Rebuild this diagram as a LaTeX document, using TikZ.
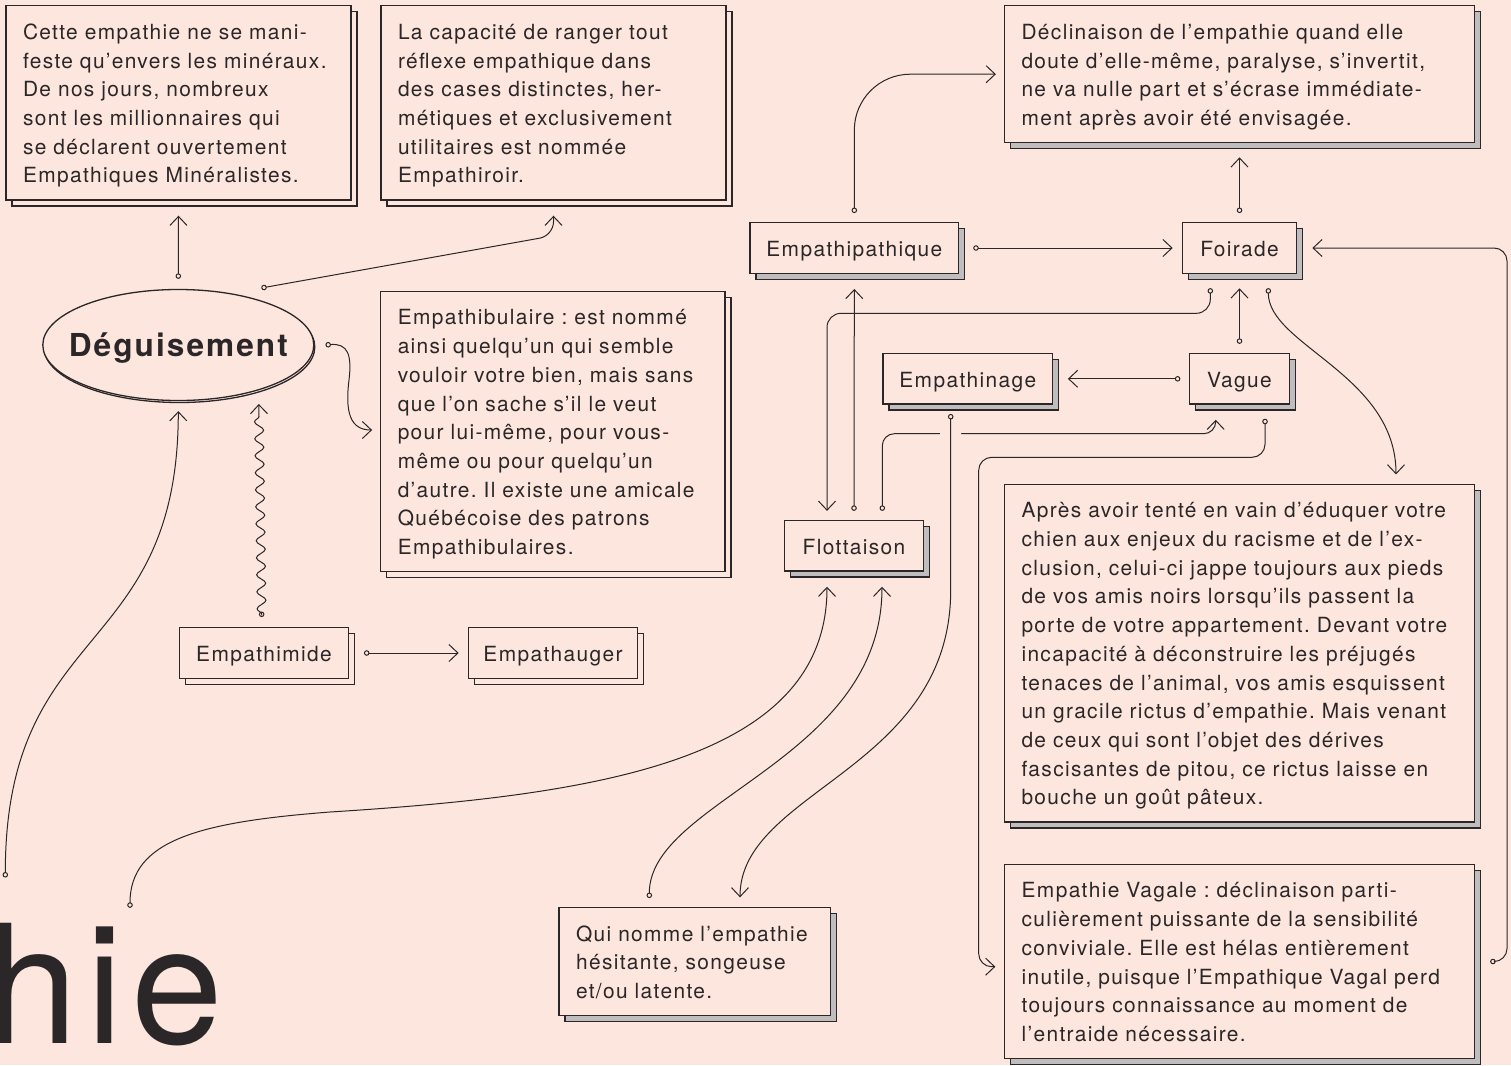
\documentclass[tikz,border=0pt]{standalone}
\usepackage{fontspec}
\setmainfont[LetterSpace=6.5]{TeX Gyre Heros}
\newfontfamily\titrefont[LetterSpace=5]{TeX Gyre Heros}
\usetikzlibrary{arrows.meta,shapes.geometric,shadows,decorations.pathmorphing}
\frenchspacing

\definecolor{fond}{HTML}{FCE6DE}
\definecolor{encre}{HTML}{2B2627}
\definecolor{ombre}{HTML}{BFBDBE}

\tikzset{
  note/.style={draw=encre, line width=1.3pt, fill=fond, text=encre, align=left,
    text width=#1, inner xsep=17pt, inner ysep=0pt,
    font=\fontsize{20.9}{28.7}\selectfont,
    execute at begin node={\rule{0pt}{22pt}},
    execute at end node={\rule[-5.7pt]{0pt}{5.7pt}}},
  mot/.style={draw=encre, line width=1.3pt, fill=fond, text=encre,
    inner xsep=0pt, minimum height=50.6pt, text height=19pt, text depth=1.6pt,
    font=\fontsize{20.9}{25}\selectfont},
  gris/.style={copy shadow={draw=encre, fill=ombre, line width=1.3pt,
    shadow xshift=6pt, shadow yshift=-6pt}},
  pale/.style={copy shadow={draw=encre, fill=fond, line width=1.3pt,
    shadow xshift=6pt, shadow yshift=-6pt}},
  lien/.style={draw=encre, line width=1pt,
    {Circle[open,length=5.5pt,width=5.5pt]}-{Straight Barb[length=9pt,width=17pt]}},
}

\begin{document}
\begin{tikzpicture}[x=1pt,y=-1pt]
  \fill[fond] (0,0) rectangle (1511,1065);
  \useasboundingbox (0,0) rectangle (1511,1065);

  \node[anchor=base west, inner sep=0pt, text=encre,
    font=\titrefont\fontsize{165}{165}\selectfont] (titre) at (-13.7,1043.3) {hie};

  \node[ellipse, draw=encre, line width=1.3pt, fill=fond, minimum width=271pt,
    minimum height=111pt, inner xsep=-30pt, inner ysep=0pt, text=encre,
    text height=22.7pt, text depth=0pt,
    font=\bfseries\fontsize{31.6}{32}\selectfont,
    copy shadow={draw=encre, fill=fond, line width=1.3pt, shadow xshift=1pt, shadow yshift=-2pt}]
    (degu) at (178.3,345) {Déguisement};

  \node[note=311pt, minimum height=194.3pt, pale] (mineraux) at (178.5,102.9)
    {Cette empathie ne se mani-\\feste qu’envers les minéraux.\\De nos jours, nombreux\\sont les millionnaires qui\\se déclarent ouvertement\\Empathiques Minéralistes.};
  \node[note=311pt, minimum height=194.3pt, pale] (empathiroir) at (553.5,102.9)
    {La capacité de ranger tout\\réflexe empathique dans\\des cases distinctes, her-\\métiques et exclusivement\\utilitaires est nommée\\Empathiroir.};
  \node[note=436pt, minimum height=137pt, gris] (decline) at (1239.5,74.2)
    {Déclinaison de l’empathie quand elle\\doute d’elle-même, paralyse, s’invertit,\\ne va nulle part et s’écrase immédiate-\\ment après avoir été envisagée.};
  \node[note=310.3pt, minimum height=279.8pt, pale] (bulaire) at (552.9,431.6)
    {Empathibulaire : est nommé\\ainsi quelqu’un qui semble\\vouloir votre bien, mais sans\\que l’on sache s’il le veut\\pour lui-même, pour vous-\\même ou pour quelqu’un\\d’autre. Il existe une amicale\\Québécoise des patrons\\Empathibulaires.};
  \node[note=436pt, minimum height=337.7pt, gris] (apres) at (1239.5,653.2)
    {Après avoir tenté en vain d’éduquer votre\\chien aux enjeux du racisme et de l’ex-\\clusion, celui-ci jappe toujours aux pieds\\de vos amis noirs lorsqu’ils passent la\\porte de votre appartement. Devant votre\\incapacité à déconstruire les préjugés\\tenaces de l’animal, vos amis esquissent\\un gracile rictus d’empathie. Mais venant\\de ceux qui sont l’objet des dérives\\fascisantes de pitou, ce rictus laisse en\\bouche un goût pâteux.};
  \node[note=436.2pt, minimum height=194.4pt, gris] (vagale) at (1239.7,961.5)
    {Empathie Vagale : déclinaison parti-\\culièrement puissante de la sensibilité\\conviviale. Elle est hélas entièrement\\inutile, puisque l’Empathique Vagal perd\\toujours connaissance au moment de\\l’entraide nécessaire.};
  \node[note=237.3pt, minimum height=108pt, gris] (quinomme) at (694.7,961.7)
    {Qui nomme l’empathie\\hésitante, songeuse\\et/ou latente.};

  \node[mot, minimum width=208.7pt, gris] (pathique) at (854.3,248) {Empathipathique};
  \node[mot, minimum width=114.4pt, gris] (foirade) at (1239.5,248) {Foirade};
  \node[mot, minimum width=169.7pt, gris] (empathinage) at (967.8,378.8) {Empathinage};
  \node[mot, minimum width=100.4pt, gris] (vague) at (1239.5,378.8) {Vague};
  \node[mot, minimum width=139.3pt, gris] (flott) at (854,545.8) {Flottaison};
  \node[mot, minimum width=169.4pt, pale] (timide) at (264,653) {Empathimide};
  \node[mot, minimum width=169.4pt, pale] (auger) at (553,653) {Empathauger};

  % autour du deguisement
  \draw[lien] ([yshift=10pt]degu.north) -- ([yshift=-15pt]mineraux.south);
  \draw[lien, rounded corners=14pt] ([xshift=83pt,yshift=57pt]degu.center)
    -- ([yshift=-35pt]empathiroir.south) -- ([yshift=-15pt]empathiroir.south);
  \draw[lien] ([xshift=11pt]degu.east) .. controls (348,343) and (352,355) .. (349,380)
    .. controls (345,412) and (350,430) .. ([xshift=-8pt,yshift=1.6pt]bulaire.west);
  \draw[lien, decorate, decoration={snake, amplitude=4.5pt, segment length=17pt,
    pre length=3pt, post length=6pt}]
    ([xshift=-2.3pt,yshift=10pt]timide.north) -- ([xshift=80.5pt,yshift=-59pt]degu.center);
  \draw[lien] ([xshift=14.6pt]timide.east) -- ([xshift=-9pt]auger.west);
  \draw[lien] ([xshift=19pt,yshift=45.3pt]titre.north west)
    .. controls (5.3,620) and (178.3,660) .. ([yshift=-10pt]degu.south);
  \draw[lien] ([xshift=143.7pt,yshift=15pt]titre.north west)
    .. controls (130,840) and (200,822) .. (330,812)
    .. controls (600,795) and (827,760) .. ([xshift=-27pt,yshift=-15pt]flott.south);

  % flottaison et foirade
  \draw[lien] ([xshift=-45.4pt,yshift=9pt]quinomme.north)
    .. controls (649.3,800) and (882,760) .. ([xshift=28pt,yshift=-15pt]flott.south);
  \draw[lien] ([xshift=13.9pt]pathique.east) -- ([xshift=-9pt]foirade.west);
  \draw[lien] ([yshift=9pt]foirade.north) -- ([yshift=-14pt]decline.south);
  \draw[lien, rounded corners=56pt] ([yshift=9pt]pathique.north) |- ([xshift=-8pt]decline.west);
  \draw[lien, rounded corners=14pt] ([xshift=-29.2pt,yshift=-14.2pt]foirade.south)
    -- (1210.3,313.3) -- (827,313.3) -- ([xshift=-27pt,yshift=9pt]flott.north);
  \draw[lien] ([yshift=9pt]flott.north) -- ([yshift=-15pt]pathique.south);
  \draw[lien, rounded corners=12pt] ([xshift=28.3pt,yshift=9pt]flott.north)
    -- (882.3,433.7) -- (1215.7,433.7) -- ([xshift=-23.8pt,yshift=-15pt]vague.south);
  \draw[lien, preaction={draw=fond, line width=21pt, -}]
    ([xshift=-17.1pt,yshift=-9.2pt]empathinage.south) -- (950.7,590)
    .. controls (950.7,770) and (740,790) .. ([xshift=45.3pt,yshift=9.7pt]quinomme.north);
  \draw[lien, rounded corners=13pt] ([xshift=25.5pt,yshift=-14pt]vague.south)
    -- (1265,457.3) -- (978.7,457.3) -- (978.7,966.7) -- ([xshift=-8.6pt,yshift=-5.2pt]vagale.west);
  \draw[lien] ([xshift=-8.3pt]vague.west) -- ([xshift=14.6pt]empathinage.east);
  \draw[lien] ([yshift=9pt]vague.north) -- ([yshift=-14.4pt]foirade.south);
  \draw[lien] ([xshift=28.8pt,yshift=-14.2pt]foirade.south)
    .. controls (1268.3,345) and (1396,375) .. ([xshift=156.5pt,yshift=9.3pt]apres.north);
  \draw[lien, rounded corners=13pt] ([xshift=14.7pt]vagale.east)
    -- (1507,961.5) -- (1507,248) -- ([xshift=15pt]foirade.east);
\end{tikzpicture}
\end{document}
